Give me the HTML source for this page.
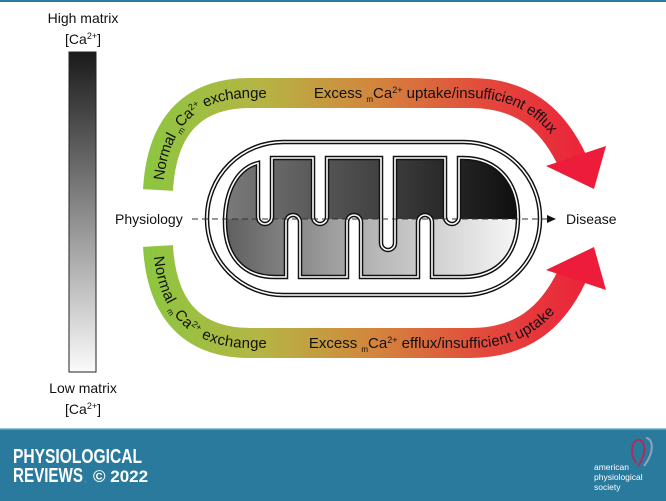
<!DOCTYPE html>
<html><head><meta charset="utf-8"><style>
html,body{margin:0;padding:0;background:#fff;}
body{width:666px;height:501px;overflow:hidden;position:relative;font-family:"Liberation Sans",Arial,sans-serif;}
</style></head><body>
<svg width="666" height="501" viewBox="0 0 666 501" xmlns="http://www.w3.org/2000/svg" style="position:absolute;left:0;top:0">
<defs>
<linearGradient id="bar" x1="0" y1="0" x2="0" y2="1">
<stop offset="0" stop-color="#1a1a1a"/><stop offset="0.5" stop-color="#8a8a8a"/><stop offset="1" stop-color="#fbfbfb"/>
</linearGradient>
<linearGradient id="arr" gradientUnits="userSpaceOnUse" x1="145" y1="0" x2="605" y2="0">
<stop offset="0" stop-color="#8cc640"/><stop offset="0.25" stop-color="#b5b544"/><stop offset="0.5" stop-color="#d3853d"/><stop offset="0.75" stop-color="#e4473c"/><stop offset="1" stop-color="#ec1c3a"/>
</linearGradient>
<linearGradient id="topg" gradientUnits="userSpaceOnUse" x1="225" y1="0" x2="518" y2="0">
<stop offset="0" stop-color="#7a7a7a"/><stop offset="1" stop-color="#0e0e0e"/>
</linearGradient>
<linearGradient id="botg" gradientUnits="userSpaceOnUse" x1="225" y1="0" x2="518" y2="0">
<stop offset="0" stop-color="#5e5e5e"/><stop offset="0.5" stop-color="#b5b5b5"/><stop offset="1" stop-color="#f6f6f6"/>
</linearGradient>
<path id="mat" d="M 272 158 H 313 V 217 A 7 7 0 0 0 327 217 V 158 H 381 V 243 A 7 7 0 0 0 395 243 V 158 H 445 V 217 A 7 7 0 0 0 459 217 V 158 H 463 C 500 158 518 185 518 217 C 518 252 500 277 463 277 H 432 V 222 A 7 7 0 0 0 418 222 V 277 H 361 V 222 A 7 7 0 0 0 347 222 V 277 H 300 V 222 A 7 7 0 0 0 286 222 V 277 H 275 C 242 277 225 255 225 222 C 225 190 238 168 258 163 V 217 A 7 7 0 0 0 272 217 Z"/>
<clipPath id="mc"><use href="#mat"/></clipPath>
<path id="tp" d="M 158 190 C 162 118 200 93 250 93 H 470 C 522 93 552 118 572 160"/>
<path id="bp" d="M 158 246 C 162 318 200 343 250 343 H 470 C 522 343 552 318 572 276"/>
</defs>
<rect x="0" y="0" width="666" height="2" fill="#2a7a9e"/>
<rect x="69" y="52" width="27" height="320" fill="url(#bar)" stroke="#222" stroke-width="1"/>
<text x="83" y="23" font-size="14" text-anchor="middle" fill="#111">High matrix</text>
<text x="83" y="44" font-size="14" text-anchor="middle" fill="#111">[Ca<tspan font-size="9" dy="-5">2+</tspan><tspan dy="5">]</tspan></text>
<text x="83" y="393" font-size="14" text-anchor="middle" fill="#111">Low matrix</text>
<text x="83" y="414" font-size="14" text-anchor="middle" fill="#111">[Ca<tspan font-size="9" dy="-5">2+</tspan><tspan dy="5">]</tspan></text>
<use href="#tp" fill="none" stroke="url(#arr)" stroke-width="30"/>
<polygon points="546,166 606,146 594,189" fill="#ec1c3a"/>
<use href="#bp" fill="none" stroke="url(#arr)" stroke-width="30"/>
<polygon points="546,270 606,290 594,247" fill="#ec1c3a"/>
<g font-size="15" fill="#111">
<text dy="5"><textPath href="#tp" startOffset="10">Normal <tspan font-size="8" dy="4">m</tspan><tspan dy="-4">Ca</tspan><tspan font-size="9" dy="-5">2+</tspan><tspan dy="5"> exchange</tspan></textPath></text>
<text dy="5"><textPath href="#tp" startOffset="215">Excess <tspan font-size="8" dy="4">m</tspan><tspan dy="-4">Ca</tspan><tspan font-size="9" dy="-5">2+</tspan><tspan dy="5"> uptake/insufficient efflux</tspan></textPath></text>
<text dy="5"><textPath href="#bp" startOffset="10">Normal <tspan font-size="8" dy="4">m</tspan><tspan dy="-4">Ca</tspan><tspan font-size="9" dy="-5">2+</tspan><tspan dy="5"> exchange</tspan></textPath></text>
<text dy="5"><textPath href="#bp" startOffset="210">Excess <tspan font-size="8" dy="4">m</tspan><tspan dy="-4">Ca</tspan><tspan font-size="9" dy="-5">2+</tspan><tspan dy="5"> efflux/insufficient uptake</tspan></textPath></text>
</g>
<rect x="207" y="142" width="333" height="153" rx="76" fill="#fff" stroke="#111" stroke-width="4.5"/>
<rect x="207" y="142" width="333" height="153" rx="76" fill="none" stroke="#fff" stroke-width="1.6"/>
<g clip-path="url(#mc)">
<rect x="220" y="150" width="305" height="69" fill="url(#topg)"/>
<rect x="220" y="219" width="305" height="65" fill="url(#botg)"/>
</g>
<use href="#mat" fill="none" stroke="#111" stroke-width="4.5"/>
<use href="#mat" fill="none" stroke="#fff" stroke-width="1.6"/>
<line x1="192" y1="219" x2="548" y2="219" stroke="#333" stroke-width="1" stroke-dasharray="6,4"/>
<polygon points="547,215 556,219 547,223" fill="#111"/>
<text x="115" y="224" font-size="14" fill="#111">Physiology</text>
<text x="566" y="224" font-size="14" fill="#111">Disease</text>
<rect x="0" y="428" width="666" height="73" fill="#2a7a9e"/>
<rect x="0" y="428" width="666" height="1.5" fill="#8fc3d8"/>
<text x="13" y="463" font-size="20" font-weight="bold" fill="#fff" textLength="129" lengthAdjust="spacingAndGlyphs">PHYSIOLOGICAL</text>
<text x="13" y="482" font-size="20" font-weight="bold" fill="#fff" textLength="70" lengthAdjust="spacingAndGlyphs">REVIEWS</text>
<text x="85" y="482" font-size="5" fill="#fff">.</text>
<text x="93" y="482" font-size="17" font-weight="bold" fill="#fff">© 2022</text>
<g font-size="8.5" fill="#fff">
<text x="594" y="470">american</text>
<text x="594" y="480">physiological</text>
<text x="594" y="490">society</text>
</g>
<path d="M 636 463 C 628 450 634 438 640 440 C 646 442 646 456 638 466" fill="none" stroke="#b02b5a" stroke-width="2"/>
<path d="M 644 466 C 656 450 652 438 646 438" fill="none" stroke="#8aa4b8" stroke-width="2"/>
</svg>
</body></html>
